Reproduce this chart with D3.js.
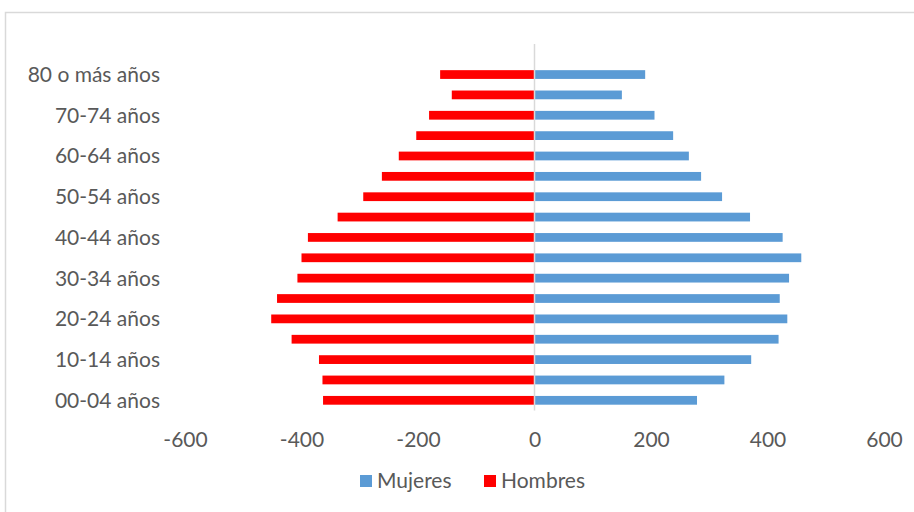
<!DOCTYPE html>
<html>
<head>
<meta charset="utf-8">
<script src="https://cdn.jsdelivr.net/npm/d3@7"></script>
<style>
  body { margin: 0; background: #fff; }
  text { font-family: Lato, "Open Sans", sans-serif; fill: #595959; }
</style>
</head>
<body>
<div id="chart"></div>
<script>
// age groups from youngest to oldest; the last slot is empty in the original
var ageGroups = ["00-04 años", "05-09 años", "10-14 años", "15-19 años", "20-24 años",
  "25-29 años", "30-34 años", "35-39 años", "40-44 años", "45-49 años", "50-54 años",
  "55-59 años", "60-64 años", "65-69 años", "70-74 años", "75-79 años", "80 o más años", ""];
var mujeres = [279, 326, 372, 419, 434, 421, 437, 458, 426, 370, 322, 286, 265, 238, 206, 150, 190, null];
var hombres = [-363, -364, -370, -417, -452, -442, -407, -400, -389, -338, -294, -262, -233, -203, -181, -142, -162, null];
var xTicks = [-600, -400, -200, 0, 200, 400, 600];

var W = 914, H = 512;
var margin = {top: 44, left: 160, right: 31, bottom: 101.5};
var fontSize = "21px";

var svg = d3.select("#chart").append("svg")
  .attr("width", W)
  .attr("height", H);

// outer chart border
svg.append("rect")
  .attr("x", 5.5).attr("y", 12.5)
  .attr("width", W).attr("height", H)
  .attr("fill", "none")
  .attr("stroke", "#d9d9d9")
  .attr("stroke-width", 1.5);

var x = d3.scaleLinear()
  .domain([-600, 600])
  .range([185, 884]);

var y = d3.scaleBand()
  .domain(ageGroups.map(function (d, i) { return i; }))
  .range([H - margin.bottom, margin.top])
  .paddingInner(0.57)
  .paddingOuter(0.285);

// bars
var rows = ageGroups.map(function (g, i) { return {i: i, m: mujeres[i], h: hombres[i]}; })
  .filter(function (d) { return d.m !== null; });

svg.append("g").selectAll("rect")
  .data(rows)
  .enter().append("rect")
    .attr("x", function (d) { return x(0); })
    .attr("y", function (d) { return y(d.i); })
    .attr("width", function (d) { return x(d.m) - x(0); })
    .attr("height", y.bandwidth())
    .attr("fill", "#5b9bd5");

svg.append("g").selectAll("rect")
  .data(rows)
  .enter().append("rect")
    .attr("x", function (d) { return x(d.h); })
    .attr("y", function (d) { return y(d.i); })
    .attr("width", function (d) { return x(0) - x(d.h); })
    .attr("height", y.bandwidth())
    .attr("fill", "#ff0000");

// zero line
svg.append("line")
  .attr("x1", x(0)).attr("x2", x(0))
  .attr("y1", margin.top).attr("y2", H - margin.bottom)
  .attr("stroke", "#d9d9d9")
  .attr("stroke-width", 1.5);

// category labels (every other one, like the original)
svg.append("g").selectAll("text")
  .data(ageGroups.filter(function (d, i) { return i % 2 === 0 && d !== ""; }))
  .enter().append("text")
    .attr("x", 160)
    .attr("y", function (d) { return y(ageGroups.indexOf(d)) + y.bandwidth() / 2; })
    .attr("dy", "0.35em")
    .attr("text-anchor", "end")
    .style("font-size", fontSize)
    .text(function (d) { return d; });

// x axis labels (plain hyphen minus like Excel)
var xAxis = svg.append("g")
  .attr("transform", "translate(0,440)")
  .call(d3.axisBottom(x).tickValues(xTicks).tickSize(0).tickPadding(0)
    .tickFormat(function (d) { return String(d); }));
xAxis.select(".domain").remove();
xAxis.selectAll("text")
  .attr("y", 0)
  .attr("dy", "0.35em")
  .style("font-size", fontSize)
  .style("font-family", "Lato, 'Open Sans', sans-serif")
  .attr("fill", "#595959");

// legend
var legend = [{name: "Mujeres", color: "#5b9bd5", x: 360}, {name: "Hombres", color: "#ff0000", x: 484}];
var lg = svg.append("g").selectAll("g")
  .data(legend)
  .enter().append("g")
    .attr("transform", function (d) { return "translate(" + d.x + ",481)"; });
lg.append("rect")
  .attr("x", 0).attr("y", -6)
  .attr("width", 12).attr("height", 12)
  .attr("fill", function (d) { return d.color; });
lg.append("text")
  .attr("x", 17)
  .attr("dy", "0.35em")
  .style("font-size", fontSize)
  .text(function (d) { return d.name; });
</script>
</body>
</html>
